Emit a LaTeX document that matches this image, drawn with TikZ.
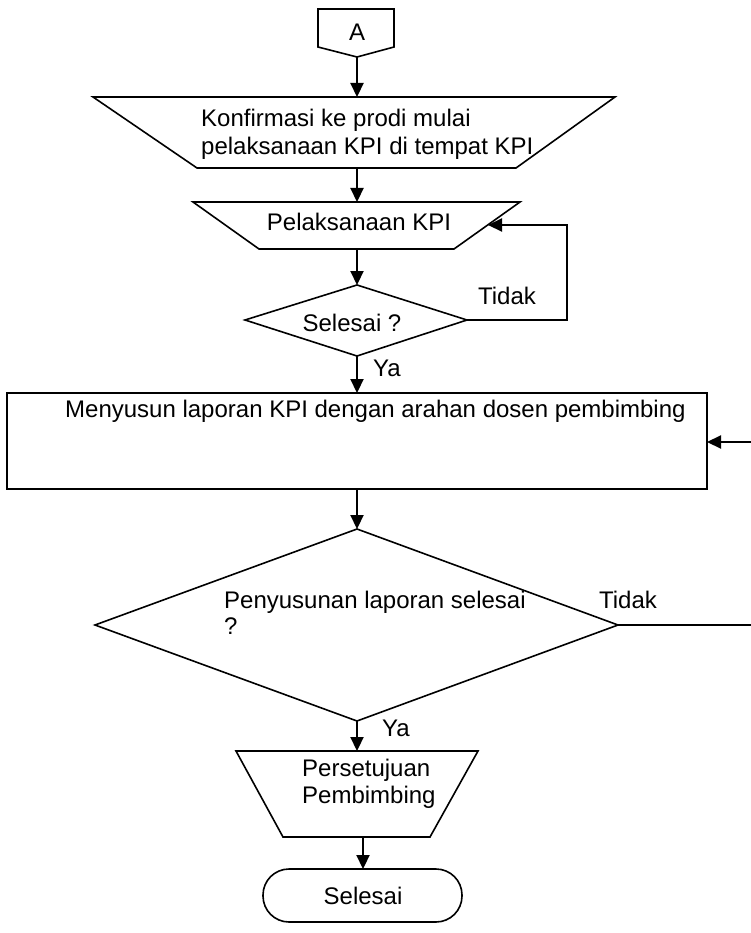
\documentclass[tikz,border=0pt]{standalone}
\usepackage{fontspec}
\setmainfont{Liberation Sans}
\usetikzlibrary{arrows.meta}
\begin{document}
\begin{tikzpicture}[x=1pt,y=-1pt,
  shp/.style={draw=black,line width=1.6pt,line join=miter},
  conn/.style={draw=black,line width=2.2pt,-{Triangle[length=14pt,width=13pt]}},
  txt/.style={inner sep=0pt,font=\fontsize{24}{28}\selectfont,text=black},
]
\useasboundingbox (0,0) rectangle (751,933);
\clip (0,0) rectangle (751,933);
\fill[white] (0,0) rectangle (751,933);

% ---- off-page connector A
\draw[shp] (318,9) -- (394,9) -- (394,47) -- (357,57) -- (318,47) -- cycle;
\node[txt] (A) at (357,32) {A};
\coordinate (Abot) at (357,57);

% ---- trapezoid 1
\draw[shp] (93,97) -- (615,97) -- (516,168) -- (197,168) -- cycle;
\node[txt,anchor=west,align=left] (t1) at (201,134) {Konfirmasi ke prodi mulai\\pelaksanaan KPI di tempat KPI};
\coordinate (t1top) at (357,97);
\coordinate (t1bot) at (357,168);

% ---- trapezoid 2
\draw[shp] (193,202) -- (520,202) -- (454,249) -- (259,249) -- cycle;
\node[txt] (t2) at (359,222) {Pelaksanaan KPI};
\coordinate (t2top) at (357,202);
\coordinate (t2bot) at (357,249);
\coordinate (t2right) at (488,225);

% ---- decision 1
\draw[shp] (245,320) -- (357,285) -- (467,320) -- (357,356) -- cycle;
\node[txt] (d1) at (352,323) {Selesai ?};
\coordinate (d1top) at (357,285);
\coordinate (d1bot) at (357,356);
\coordinate (d1right) at (467,320);
\coordinate (loopA) at (567,320);
\coordinate (loopB) at (567,225);
\node[txt] (tidak1) at (507,296) {Tidak};
\node[txt,anchor=west] (ya1) at (373,368) {Ya};

% ---- process box
\draw[shp] (7,393) rectangle (707,489);
\node[txt,anchor=west] (box) at (65,411) {Menyusun laporan KPI dengan arahan dosen pembimbing};
\coordinate (boxtop) at (357,393);
\coordinate (boxbot) at (357,489);
\coordinate (boxright) at (707,442);

% ---- decision 2
\draw[shp] (95,625) -- (357,529) -- (618,625) -- (357,721) -- cycle;
\node[txt,anchor=west,align=left,font=\fontsize{24}{26}\selectfont] (d2) at (224,613) {Penyusunan laporan selesai\\?};
\coordinate (d2top) at (357,529);
\coordinate (d2bot) at (357,721);
\coordinate (d2right) at (618,625);
\coordinate (farA) at (765,625);
\coordinate (farB) at (765,442);
\node[txt] (tidak2) at (628,600) {Tidak};
\node[txt,anchor=west] (ya2) at (382,728) {Ya};

% ---- trapezoid 3
\draw[shp] (236,751) -- (478,751) -- (430,837) -- (283,837) -- cycle;
\node[txt,anchor=west,align=left,font=\fontsize{24}{27}\selectfont] (t3) at (302,784) {Persetujuan\\Pembimbing};
\coordinate (t3top) at (357,751);
\coordinate (t3bot) at (363,837);

% ---- terminator
\draw[shp,rounded corners=26pt] (263,869) rectangle (462,922);
\node[txt] (end) at (363,896) {Selesai};
\coordinate (endtop) at (363,869);

% ---- connectors
\draw[conn] (Abot) -- (t1top);
\draw[conn] (t1bot) -- (t2top);
\draw[conn] (t2bot) -- (d1top);
\draw[conn] (d1right) -- (loopA) -- (loopB) -- (t2right);
\draw[conn] (d1bot) -- (boxtop);
\draw[conn] (boxbot) -- (d2top);
\draw[conn] (d2right) -- (farA) -- (farB) -- (boxright);
\draw[conn] (d2bot) -- (t3top);
\draw[conn] (t3bot) -- (endtop);
\end{tikzpicture}
\end{document}
